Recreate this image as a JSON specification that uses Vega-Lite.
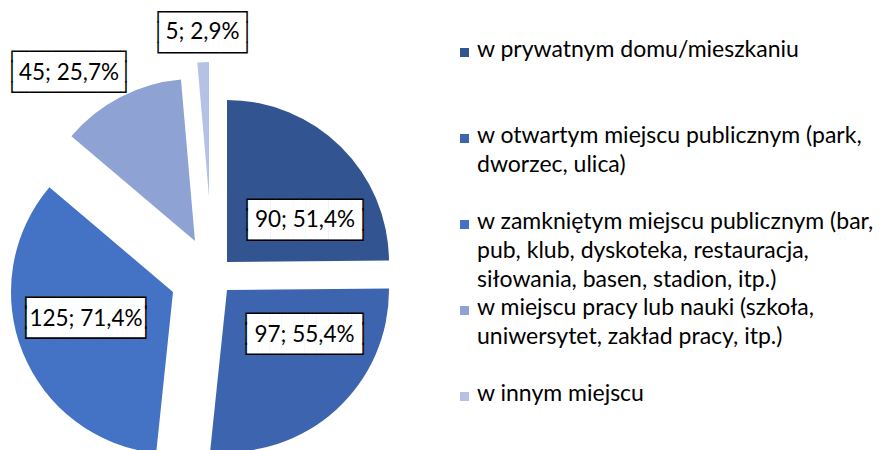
{
  "$schema": "https://vega.github.io/schema/vega-lite/v6.json",
  "width": 881,
  "height": 450,
  "padding": 0,
  "autosize": {"type": "none"},
  "background": "white",
  "config": {"view": {"stroke": null}, "style": {"guide-label": {"lineHeight": 29, "dy": -14}}},
  "data": {"values": [
    {"idx": 1, "cat": "w prywatnym domu/mieszkaniu", "count": 90, "label": "90; 51,4%"},
    {"idx": 2, "cat": "w otwartym miejscu publicznym (park, dworzec, ulica)", "count": 97, "label": "97; 55,4%"},
    {"idx": 3, "cat": "w zamkniętym miejscu publicznym (bar, pub, klub, dyskoteka, restauracja, siłowania, basen, stadion, itp.)", "count": 125, "label": "125; 71,4%"},
    {"idx": 4, "cat": "w miejscu pracy lub nauki (szkoła, uniwersytet, zakład pracy, itp.)", "count": 45, "label": "45; 25,7%"},
    {"idx": 5, "cat": "w innym miejscu", "count": 5, "label": "5; 2,9%"}
  ]},
  "encoding": {
    "theta": {"field": "count", "type": "quantitative", "stack": true},
    "order": {"field": "idx", "type": "quantitative"},
    "color": {
      "field": "cat", "type": "nominal",
      "scale": {
        "domain": [
          "w prywatnym domu/mieszkaniu",
          "w otwartym miejscu publicznym (park, dworzec, ulica)",
          "w zamkniętym miejscu publicznym (bar, pub, klub, dyskoteka, restauracja, siłowania, basen, stadion, itp.)",
          "w miejscu pracy lub nauki (szkoła, uniwersytet, zakład pracy, itp.)",
          "w innym miejscu"
        ],
        "range": ["#325592", "#3D64AE", "#4472C4", "#8EA2D4", "#B5C2E5"]
      },
      "legend": {
        "title": null,
        "orient": "none",
        "legendX": 453,
        "legendY": 41,
        "padding": 0,
        "symbolType": "square",
        "symbolSize": 81,
        "symbolStrokeWidth": 0,
        "labelFont": "Lato",
        "labelFontSize": 23,
        "labelFontWeight": 400,
        "labelColor": "black",
        "labelBaseline": "top",
        "labelOffset": 1,
        "labelLimit": 1000,
        "rowPadding": 4,
        "labelExpr": "indexof(datum.label, 'prywatnym') >= 0 ? ['w prywatnym domu/mieszkaniu', '', ''] : indexof(datum.label, 'otwartym') >= 0 ? ['w otwartym miejscu publicznym (park,', 'dworzec, ulica)', ''] : indexof(datum.label, 'zamkni') >= 0 ? ['w zamkniętym miejscu publicznym (bar,', 'pub, klub, dyskoteka, restauracja,', 'siłowania, basen, stadion, itp.)'] : indexof(datum.label, 'pracy') >= 0 ? ['w miejscu pracy lub nauki (szkoła,', 'uniwersytet, zakład pracy, itp.)', ''] : datum.label"
      }
    }
  },
  "layer": [
    {"mark": {"type": "arc", "outerRadius": 162, "xOffset": -213.5, "yOffset": 37}, "encoding": {"opacity": {"condition": {"test": "datum.idx == 1", "value": 1}, "value": 0}}},
    {"mark": {"type": "arc", "outerRadius": 162, "xOffset": -213.5, "yOffset": 65}, "encoding": {"opacity": {"condition": {"test": "datum.idx == 2", "value": 1}, "value": 0}}},
    {"mark": {"type": "arc", "outerRadius": 162, "xOffset": -267.5, "yOffset": 67}, "encoding": {"opacity": {"condition": {"test": "datum.idx == 3", "value": 1}, "value": 0}}},
    {"mark": {"type": "arc", "outerRadius": 162, "xOffset": -245.5, "yOffset": 16}, "encoding": {"opacity": {"condition": {"test": "datum.idx == 4", "value": 1}, "value": 0}}},
    {"mark": {"type": "arc", "outerRadius": 135, "xOffset": -231.5, "yOffset": -28}, "encoding": {"opacity": {"condition": {"test": "datum.idx == 5", "value": 1}, "value": 0}}},

    {"mark": {"type": "text", "radius": 90, "dx": -198.9, "dy": 50.3, "font": "DejaVu Sans Mono", "fontSize": 19.27, "lineHeight": 18, "lineBreak": "\n", "align": "center", "baseline": "middle"}, "encoding": {"text": {"value": "██████████\n██████████"}, "color": {"value": "white"}, "detail": {"field": "cat"}, "opacity": {"condition": {"test": "datum.idx == 1", "value": 1}, "value": 0}}},
    {"mark": {"type": "text", "radius": 90, "dx": -198.9, "dy": 38.8, "font": "DejaVu Sans Mono", "fontSize": 19.27, "lineHeight": 20.5, "lineBreak": "\n", "align": "center", "baseline": "middle"}, "encoding": {"text": {"value": "┌─────────┐\n│\u00a0\u00a0\u00a0\u00a0\u00a0\u00a0\u00a0\u00a0\u00a0│\n└─────────┘"}, "color": {"value": "black"}, "detail": {"field": "cat"}, "opacity": {"condition": {"test": "datum.idx == 1", "value": 1}, "value": 0}}},
    {"mark": {"type": "text", "radius": 90, "dx": -198.9, "dy": 59.4, "font": "Lato", "fontSize": 22.5, "align": "center", "baseline": "middle"}, "encoding": {"text": {"field": "label"}, "color": {"value": "black"}, "detail": {"field": "cat"}, "opacity": {"condition": {"test": "datum.idx == 1", "value": 1}, "value": 0}}},

    {"mark": {"type": "text", "radius": 90, "dx": -196.5, "dy": 33.8, "font": "DejaVu Sans Mono", "fontSize": 19.43, "lineHeight": 18, "lineBreak": "\n", "align": "center", "baseline": "middle"}, "encoding": {"text": {"value": "██████████\n██████████"}, "color": {"value": "white"}, "detail": {"field": "cat"}, "opacity": {"condition": {"test": "datum.idx == 2", "value": 1}, "value": 0}}},
    {"mark": {"type": "text", "radius": 90, "dx": -196.5, "dy": 22.3, "font": "DejaVu Sans Mono", "fontSize": 19.43, "lineHeight": 20.5, "lineBreak": "\n", "align": "center", "baseline": "middle"}, "encoding": {"text": {"value": "┌─────────┐\n│\u00a0\u00a0\u00a0\u00a0\u00a0\u00a0\u00a0\u00a0\u00a0│\n└─────────┘"}, "color": {"value": "black"}, "detail": {"field": "cat"}, "opacity": {"condition": {"test": "datum.idx == 2", "value": 1}, "value": 0}}},
    {"mark": {"type": "text", "radius": 90, "dx": -196.5, "dy": 42.9, "font": "Lato", "fontSize": 22.5, "align": "center", "baseline": "middle"}, "encoding": {"text": {"field": "label"}, "color": {"value": "black"}, "detail": {"field": "cat"}, "opacity": {"condition": {"test": "datum.idx == 2", "value": 1}, "value": 0}}},

    {"mark": {"type": "text", "radius": 90, "dx": -271, "dy": 50.9, "font": "DejaVu Sans Mono", "fontSize": 19.93, "lineHeight": 18, "lineBreak": "\n", "align": "center", "baseline": "middle"}, "encoding": {"text": {"value": "██████████\n██████████"}, "color": {"value": "white"}, "detail": {"field": "cat"}, "opacity": {"condition": {"test": "datum.idx == 3", "value": 1}, "value": 0}}},
    {"mark": {"type": "text", "radius": 90, "dx": -271, "dy": 39.4, "font": "DejaVu Sans Mono", "fontSize": 19.93, "lineHeight": 20.5, "lineBreak": "\n", "align": "center", "baseline": "middle"}, "encoding": {"text": {"value": "┌─────────┐\n│\u00a0\u00a0\u00a0\u00a0\u00a0\u00a0\u00a0\u00a0\u00a0│\n└─────────┘"}, "color": {"value": "black"}, "detail": {"field": "cat"}, "opacity": {"condition": {"test": "datum.idx == 3", "value": 1}, "value": 0}}},
    {"mark": {"type": "text", "radius": 90, "dx": -271, "dy": 60, "font": "Lato", "fontSize": 22.5, "align": "center", "baseline": "middle"}, "encoding": {"text": {"field": "label"}, "color": {"value": "black"}, "detail": {"field": "cat"}, "opacity": {"condition": {"test": "datum.idx == 3", "value": 1}, "value": 0}}},

    {"mark": {"type": "text", "radius": 205, "dx": -277.3, "dy": 20.5, "font": "DejaVu Sans Mono", "fontSize": 18.93, "lineHeight": 18, "lineBreak": "\n", "align": "center", "baseline": "middle"}, "encoding": {"text": {"value": "██████████\n██████████"}, "color": {"value": "white"}, "detail": {"field": "cat"}, "opacity": {"condition": {"test": "datum.idx == 4", "value": 1}, "value": 0}}},
    {"mark": {"type": "text", "radius": 205, "dx": -277.3, "dy": 9.0, "font": "DejaVu Sans Mono", "fontSize": 18.93, "lineHeight": 20.5, "lineBreak": "\n", "align": "center", "baseline": "middle"}, "encoding": {"text": {"value": "┌─────────┐\n│\u00a0\u00a0\u00a0\u00a0\u00a0\u00a0\u00a0\u00a0\u00a0│\n└─────────┘"}, "color": {"value": "black"}, "detail": {"field": "cat"}, "opacity": {"condition": {"test": "datum.idx == 4", "value": 1}, "value": 0}}},
    {"mark": {"type": "text", "radius": 205, "dx": -277.3, "dy": 29.6, "font": "Lato", "fontSize": 22.5, "align": "center", "baseline": "middle"}, "encoding": {"text": {"field": "label"}, "color": {"value": "black"}, "detail": {"field": "cat"}, "opacity": {"condition": {"test": "datum.idx == 4", "value": 1}, "value": 0}}},

    {"mark": {"type": "text", "radius": 195, "dx": -229.5, "dy": -6.8, "font": "DejaVu Sans Mono", "fontSize": 18.48, "lineHeight": 18, "lineBreak": "\n", "align": "center", "baseline": "middle"}, "encoding": {"text": {"value": "████████\n████████"}, "color": {"value": "white"}, "detail": {"field": "cat"}, "opacity": {"condition": {"test": "datum.idx == 5", "value": 1}, "value": 0}}},
    {"mark": {"type": "text", "radius": 195, "dx": -229.5, "dy": -18.3, "font": "DejaVu Sans Mono", "fontSize": 18.48, "lineHeight": 20.5, "lineBreak": "\n", "align": "center", "baseline": "middle"}, "encoding": {"text": {"value": "┌───────┐\n│\u00a0\u00a0\u00a0\u00a0\u00a0\u00a0\u00a0│\n└───────┘"}, "color": {"value": "black"}, "detail": {"field": "cat"}, "opacity": {"condition": {"test": "datum.idx == 5", "value": 1}, "value": 0}}},
    {"mark": {"type": "text", "radius": 195, "dx": -229.5, "dy": 2.3, "font": "Lato", "fontSize": 22.5, "align": "center", "baseline": "middle"}, "encoding": {"text": {"field": "label"}, "color": {"value": "black"}, "detail": {"field": "cat"}, "opacity": {"condition": {"test": "datum.idx == 5", "value": 1}, "value": 0}}}
  ]
}
